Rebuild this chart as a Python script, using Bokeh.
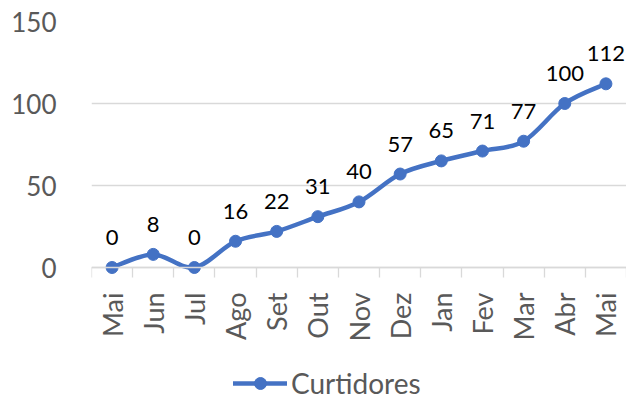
import math
from bokeh.plotting import figure
from bokeh.models import ColumnDataSource, Range1d, FixedTicker, Legend, LegendItem
from bokeh.embed import file_html
from bokeh.resources import INLINE
from bokeh.core.properties import value

months = ["Mai", "Jun", "Jul", "Ago", "Set", "Out", "Nov", "Dez", "Jan", "Fev", "Mar", "Abr", "Mai"]
curtidores = [0, 8, 0, 16, 22, 31, 40, 57, 65, 71, 77, 100, 112]
series_name = "Curtidores"
y_ticks = [0, 50, 100, 150]

BLUE = "#4472C4"
GRAY = "#595959"
GRID = "#D9D9D9"
FONT = "Lato"

n = len(months)
xs = list(range(n))

W, H = 626, 400
TOP = 21          # pixel row of the 150 gridline
ZERO = 267        # pixel row of the 0 gridline
px_per_unit = (ZERO - TOP) / 150
y_start = -(H - ZERO) / px_per_unit   # frame runs down to the figure bottom

p = figure(width=W, height=H, output_backend="svg", toolbar_location=None,
           x_range=Range1d(-0.5, n - 0.5), y_range=Range1d(y_start, 150),
           min_border_left=91, min_border_right=0, min_border_top=TOP, min_border_bottom=0)
p.outline_line_color = None
p.background_fill_color = "white"
p.border_fill_color = "white"

p.xgrid.grid_line_color = None
p.ygrid.ticker = FixedTicker(ticks=y_ticks)
p.ygrid.grid_line_color = GRID
p.ygrid.grid_line_width = 1.3

p.yaxis.ticker = FixedTicker(ticks=y_ticks)
p.yaxis.axis_line_color = None
p.yaxis.major_tick_line_color = None
p.yaxis.minor_tick_line_color = None
p.yaxis.major_label_text_font = FONT
p.yaxis.major_label_text_font_size = "26px"
p.yaxis.major_label_text_color = GRAY
p.yaxis.major_label_standoff = 29

xa = p.xaxis[0]
xa.fixed_location = 0
xa.ticker = FixedTicker(ticks=xs, minor_ticks=[i - 0.5 for i in range(n + 1)])
xa.major_label_overrides = {i: m for i, m in enumerate(months)}
xa.major_label_orientation = math.pi / 2
xa.axis_line_color = GRID
xa.axis_line_width = 1.3
xa.major_tick_line_color = None
xa.major_tick_in = 0
xa.major_tick_out = 0
xa.minor_tick_line_color = GRID
xa.minor_tick_line_width = 1.3
xa.minor_tick_in = 0
xa.minor_tick_out = 10
xa.major_label_text_font = FONT
xa.major_label_text_font_size = "27px"
xa.major_label_text_color = GRAY
xa.major_label_standoff = 15

# smoothed line (Catmull-Rom style Bezier through the data points)
x0, y0, x1, y1, cx0, cy0, cx1, cy1 = [], [], [], [], [], [], [], []
for i in range(n - 1):
    ip = max(i - 1, 0)
    inn = min(i + 2, n - 1)
    x0.append(xs[i]); y0.append(curtidores[i])
    x1.append(xs[i + 1]); y1.append(curtidores[i + 1])
    cx0.append(xs[i] + (xs[i + 1] - xs[ip]) / 6)
    cy0.append(curtidores[i] + (curtidores[i + 1] - curtidores[ip]) / 6)
    cx1.append(xs[i + 1] - (xs[inn] - xs[i]) / 6)
    cy1.append(curtidores[i + 1] - (curtidores[inn] - curtidores[i]) / 6)
bez_src = ColumnDataSource(dict(x0=x0, y0=y0, x1=x1, y1=y1, cx0=cx0, cy0=cy0, cx1=cx1, cy1=cy1))
bz = p.bezier(x0="x0", y0="y0", x1="x1", y1="y1", cx0="cx0", cy0="cy0", cx1="cx1", cy1="cy1",
              source=bez_src, line_color=BLUE, line_width=4.5, line_cap="round")

src = ColumnDataSource(dict(x=xs, y=curtidores, lbl=[str(v) for v in curtidores]))
sc = p.scatter("x", "y", source=src, size=12, fill_color=BLUE, line_color=BLUE)

p.text("x", "y", text="lbl", source=src, text_align="center", text_baseline="middle",
       y_offset=-30, text_font=value(FONT), text_font_size="22px", text_color="black")

legend = Legend(items=[LegendItem(label=series_name, renderers=[bz, sc], index=0)],
                orientation="horizontal", location=(142, 0),
                border_line_color=None, background_fill_alpha=0,
                label_text_font=FONT, label_text_font_size="28px", label_text_color=GRAY,
                glyph_width=54, glyph_height=30, label_standoff=4, padding=0, margin=0)
p.add_layout(legend, "center")

open("out.html", "w").write(file_html(p, INLINE))
